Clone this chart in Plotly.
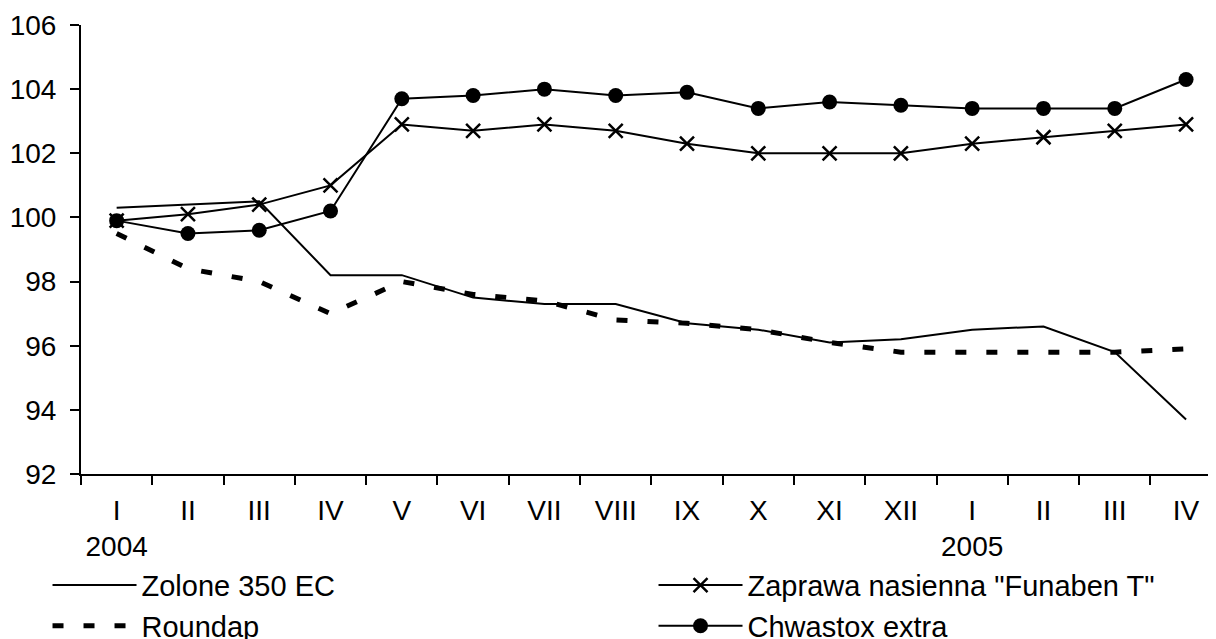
import plotly.graph_objects as go

months = ["I", "II", "III", "IV", "V", "VI", "VII", "VIII", "IX", "X", "XI", "XII",
          "I", "II", "III", "IV"]
years = ["2004", "", "", "", "", "", "", "", "", "", "", "", "2005", "", "", ""]

zolone = [100.3, 100.4, 100.5, 98.2, 98.2, 97.5, 97.3, 97.3, 96.7, 96.5, 96.1, 96.2,
          96.5, 96.6, 95.8, 93.7]
funaben = [99.9, 100.1, 100.4, 101.0, 102.9, 102.7, 102.9, 102.7, 102.3, 102.0, 102.0,
           102.0, 102.3, 102.5, 102.7, 102.9]
roundap = [99.5, 98.4, 98.0, 97.0, 98.0, 97.6, 97.4, 96.8, 96.7, 96.5, 96.1, 95.8,
           95.8, 95.8, 95.8, 95.9]
chwastox = [99.9, 99.5, 99.6, 100.2, 103.7, 103.8, 104.0, 103.8, 103.9, 103.4, 103.6,
            103.5, 103.4, 103.4, 103.4, 104.3]

x = list(range(len(months)))
ticktext = [m + ("<br>" + y if y else "") for m, y in zip(months, years)]

FONT = "Liberation Sans, Arial, sans-serif"

fig = go.Figure()
fig.add_trace(go.Scatter(x=x, y=zolone, name="Zolone 350 EC", mode="lines",
                         line=dict(color="black", width=2)))
fig.add_trace(go.Scatter(x=x, y=funaben, name='Zaprawa nasienna "Funaben T"',
                         mode="lines+markers", legendwidth=430,
                         line=dict(color="black", width=2),
                         marker=dict(symbol="x-thin-open", size=14, color="black",
                                     line=dict(color="black", width=2.5))))
fig.add_trace(go.Scatter(x=x, y=roundap, name="Roundap", mode="lines",
                         line=dict(color="black", width=5, dash="11px,20px")))
fig.add_trace(go.Scatter(x=x, y=chwastox, name="Chwastox extra", mode="lines+markers",
                         legendwidth=430,
                         line=dict(color="black", width=2),
                         marker=dict(symbol="circle", size=15, color="black")))

fig.update_layout(
    width=1208, height=631,
    margin=dict(l=73, r=0, t=17, b=165, pad=0, autoexpand=False),
    paper_bgcolor="white", plot_bgcolor="white",
    font=dict(family=FONT, size=28, color="black"),
    showlegend=True,
    legend=dict(orientation="h", x=-0.0295, xanchor="left", y=-0.191, yanchor="top",
                itemwidth=84, entrywidth=507, entrywidthmode="pixels",
                font=dict(family=FONT, size=29, color="black"),
                bgcolor="rgba(0,0,0,0)", borderwidth=0, traceorder="normal"),
    xaxis=dict(range=[-0.5, 15.42], tickmode="array", tickvals=x, ticktext=ticktext,
               ticks="", showgrid=False, zeroline=False, automargin=False,
               showline=True, linecolor="black", linewidth=2,
               ticklabelstandoff=10,
               tickfont=dict(family=FONT, size=28, color="black"),
               minor=dict(tickmode="linear", tick0=-0.5, dtick=1, ticks="outside",
                          ticklen=9, tickwidth=2, tickcolor="black", showgrid=False)),
    yaxis=dict(range=[92, 106], tickmode="linear", tick0=92, dtick=2,
               ticks="outside", ticklen=9, tickwidth=2, tickcolor="black",
               showgrid=False, zeroline=False, automargin=False,
               showline=True, linecolor="black", linewidth=2,
               ticklabelstandoff=8,
               tickfont=dict(family=FONT, size=28, color="black")),
)

fig.write_html("out.html")
